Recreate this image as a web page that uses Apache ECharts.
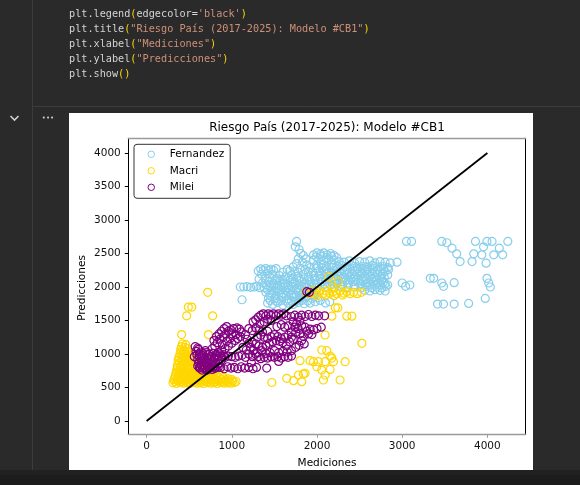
<!DOCTYPE html>
<html>
<head>
<meta charset="utf-8">
<script src="https://cdn.jsdelivr.net/npm/echarts@6/dist/echarts.min.js"></script>
<style>
html,body{margin:0;padding:0;background:#2a2a2b;}
#c{width:580px;height:485px;}
</style>
</head>
<body>
<div id="c"></div>
<script>
const seriesNames = ['Fernandez', 'Macri', 'Milei'];
const xTicks = [0, 1000, 2000, 3000, 4000];
const yTicks = [0, 500, 1000, 1500, 2000, 2500, 3000, 3500, 4000];
const identityLine = [[0, 0], [4000, 4000]];

const fernandez = [
[1100,2000],[1140,2000],[1180,2005],[1220,1995],[1260,2000],[1290,2010],[1330,1990],[1120,1810],
[1310,2240],[1340,2270],[1370,2250],[1400,2275],[1430,2245],[1460,2265],[1490,2250],[1520,2275],[1350,2190],[1420,2200],[1480,2190],[1320,2120],[1390,2130],[1450,2140],[1510,2110],
[1360,2060],[1430,2080],[1500,2050],[1560,2090],[1620,2060],[1680,2100],[1740,2070],[1800,2090],[1860,2060],[1920,2080],[1980,2100],
[1380,1990],[1450,2000],[1520,1980],[1580,2010],[1640,1990],[1700,2000],[1760,1980],[1820,2010],[1880,1990],[1940,2000],[2000,1990],
[1400,1920],[1470,1900],[1540,1930],[1600,1900],[1660,1920],[1720,1890],[1780,1920],[1840,1900],[1900,1920],[1960,1890],
[1560,2170],[1630,2150],[1700,2180],[1770,2160],[1840,2190],[1900,2150],[1960,2170],
[1430,1840],[1510,1830],[1590,1850],[1660,1820],[1730,1850],[1800,1830],[1870,1850],[1940,1830],[2010,1840],
[1420,1760],[1480,1740],[1540,1770],[1600,1730],[1660,1760],[1720,1740],[1780,1770],[1850,1750],[1920,1760],[1980,1780],[2040,1800],[2100,1760],[2150,1780],
[1400,2030],[1470,2040],[1530,2020],[1600,2040],[1660,2030],[1720,2040],[1790,2030],[1850,2040],[1910,2030],[1970,2040],
[1420,1960],[1490,1950],[1560,1960],[1630,1950],[1690,1960],[1750,1950],[1810,1960],[1870,1950],[1930,1960],[1990,1950],
[1450,1880],[1520,1870],[1580,1880],[1640,1870],[1700,1880],[1760,1870],[1830,1880],[1890,1870],[1950,1880],
[1530,2120],[1600,2110],[1660,2130],[1720,2120],[1790,2130],[1850,2120],[1910,2110],[1970,2130],
[1450,1800],[1520,1790],[1580,1800],[1640,1790],[1700,1800],[1760,1790],[1820,1800],[1890,1790],
[1600,2220],[1650,2260],[1780,2220],[1900,2230],[1950,2220],
[1760,2680],[1745,2600],[1790,2560],[1810,2500],[1840,2470],[1870,2420],[1780,2420],[1830,2370],[1880,2330],[1760,2350],[1720,2300],[1800,2280],[1860,2260],[1920,2290],[1680,2240],[1740,2230],
[1960,2480],[2000,2510],[2040,2490],[2080,2510],[2120,2480],[2160,2500],[2200,2470],
[1960,2400],[2020,2420],[2080,2390],[2140,2410],[2200,2400],[2260,2380],[2320,2370],[2380,2390],[2440,2360],[2500,2380],[2560,2370],[2620,2390],[2680,2360],[2740,2380],[2800,2370],[2860,2360],[2940,2370],
[1990,2450],[2050,2460],[2110,2440],[2170,2460],[2230,2440],
[1990,2320],[2050,2330],[2110,2310],[2170,2330],[2230,2310],[2290,2320],[2350,2300],[2410,2320],[2470,2300],[2530,2310],[2590,2300],[2650,2320],[2710,2300],[2770,2310],[2830,2290],
[2000,2280],[2060,2290],[2120,2270],[2180,2290],[2240,2270],[2300,2280],[2360,2260],[2420,2280],[2480,2270],[2540,2280],[2600,2260],[2660,2280],[2720,2260],[2780,2270],[2840,2260],
[2020,2240],[2080,2250],[2140,2230],[2200,2250],[2260,2230],[2320,2240],[2380,2220],[2440,2240],[2500,2230],[2560,2250],[2620,2230],[2680,2220],[2740,2240],[2800,2230],
[2050,2200],[2110,2190],[2170,2210],[2230,2190],[2290,2200],[2350,2190],[2410,2200],[2470,2190],[2530,2210],[2590,2190],[2650,2200],[2710,2190],[2770,2200],[2830,2180],
[2030,2160],[2090,2150],[2150,2170],[2210,2150],[2270,2160],[2330,2140],[2390,2160],[2450,2150],[2510,2170],[2570,2150],[2630,2160],[2690,2140],[2750,2160],[2790,2140],
[2040,2120],[2100,2110],[2160,2130],[2220,2110],[2280,2120],[2340,2100],[2400,2120],[2460,2110],[2520,2130],[2580,2110],[2640,2120],[2700,2100],[2760,2110],
[2060,2080],[2120,2070],[2180,2090],[2240,2070],[2300,2080],[2360,2060],[2420,2080],[2480,2070],[2540,2090],[2600,2070],[2660,2080],[2720,2060],[2780,2070],[2830,2030],
[2090,2040],[2160,2030],[2230,2050],[2300,2030],[2370,2040],[2440,2030],[2510,2050],[2570,2040],[2630,2030],[2690,2040],[2750,2030],[2800,2050],
[2120,2000],[2200,1990],[2280,2010],[2360,1990],[2440,2000],[2520,1990],[2580,2010],[2640,1990],[2700,2000],[2760,1990],[2810,2010],
[2560,1950],[2620,1940],[2680,1960],[2740,1950],[2800,1940],
[3000,2060],[3040,2010],[3090,2030],[3050,2680],[3110,2680],[3330,2130],[3370,2130],[3465,2060],[3485,2010],[3610,2065],
[3415,1745],[3485,1745],[3610,1745],[3780,1755],
[3465,2680],[3525,2660],[3585,2580],[3640,2495],[3680,2380],[3820,2380],[3840,2495],[3860,2680],[3955,2600],[3995,2680],[4055,2680],[3935,2480],[4075,2480],[4140,2580],[4180,2480],[4240,2680],
[3985,2355],[3995,2130],[4015,2060],[4035,2000],[3975,1830]
];

const macri = [
[310,570],[350,560],[390,575],[430,565],[470,570],[510,560],[550,575],[590,565],[630,570],[670,560],[710,575],[750,565],[790,570],[830,560],[870,575],[910,565],[950,570],[990,565],[1030,575],
[330,590],[370,595],[410,590],[450,595],[490,590],[530,595],[570,590],[610,595],[650,590],[690,595],[730,590],[770,595],[810,590],[850,595],[890,590],[930,595],[970,590],[1010,595],[1050,590],
[320,620],[360,610],[400,625],[440,615],[480,620],[520,610],[560,625],[600,615],[640,620],[680,610],[720,625],[760,615],[800,620],[840,610],[880,625],[920,615],[960,630],[1000,620],
[330,650],[370,655],[410,645],[450,655],[490,650],[530,645],[570,655],[610,650],[650,645],[690,655],[730,650],[790,645],[850,650],[910,650],
[340,680],[380,690],[420,675],[460,685],[500,680],[540,690],[580,675],[620,685],[660,680],[700,690],[760,670],[820,660],[880,680],
[345,715],[385,720],[425,710],[465,720],[505,715],[545,720],[585,710],[625,715],[665,710],
[350,750],[390,740],[430,760],[470,745],[510,755],[550,740],[600,760],[650,745],[700,730],
[360,790],[400,785],[440,795],[480,790],[520,785],[560,790],[600,795],
[360,830],[400,820],[440,840],[480,825],[520,835],[560,820],[620,830],
[380,870],[420,865],[460,875],[500,870],[540,860],
[370,910],[410,900],[450,920],[490,905],[530,915],
[380,950],[420,945],[460,955],[500,945],
[390,990],[430,1000],[470,985],[510,1000],
[400,1030],[440,1020],[480,1035],
[400,1070],[440,1060],[480,1080],
[410,1110],[450,1100],
[420,1150],[460,1140],
[717,1920],[490,1700],[530,1700],[470,1570],[775,1570],[411,1290],[725,1290],
[1470,575],[1645,637],[1724,602],[1782,687],[1860,712],[1801,900],[1919,900],[1998,810],
[2056,1060],[2115,1050],[2154,970],[2174,940],[1958,885],[2017,885],[2095,885],[2193,885],[2330,885],
[2056,761],[2154,770],[2095,687],[2075,612],[2271,612],[1840,700],[1821,587],[2095,1284],[2527,1160],
[1870,1930],[1910,1900],[1950,1940],[1990,1910],[2030,1930],[2070,1900],[2110,1940],[2150,1910],[2190,1930],[2230,1900],[2270,1940],[2310,1910],[2350,1930],[2390,1900],[2430,1920],[2470,1900],[2520,1920],
[2000,1870],[2100,1880],[2200,1870],[2300,1880],[2140,2150],[2250,2080],[2180,1990],
[2215,1690],[2245,1690],[2175,1565],[2350,1565],[2410,1565]
];

const milei = [
[620,790],[650,760],[680,780],[710,760],[740,790],[770,770],[800,790],[640,840],[670,820],[700,850],[730,830],[760,850],[790,820],[620,880],[660,900],[700,890],
[600,820],[630,800],[660,790],[690,800],[720,810],[750,800],[780,810],[810,790],[840,800],[610,860],[650,870],[690,860],[730,870],[770,880],[810,870],[850,860],
[600,920],[640,930],[680,920],[720,940],[760,920],[800,930],[840,920],[880,910],[620,1000],[660,1010],[700,1020],[740,1000],[780,1010],[820,990],[860,1000],[900,990],
[560,960],[590,990],[620,950],[650,980],[580,1040],[610,1070],[640,1030],[570,1110],[600,1090],[690,1050],[720,990],
[760,960],[800,950],[840,970],[880,960],[920,950],[960,970],[1000,960],[1040,950],[1080,970],
[870,800],[910,780],[950,810],[990,790],[1030,800],[1070,780],[1110,810],[1150,790],[1200,800],[1250,780],[1290,800],[1410,790],
[770,1080],[800,1120],[830,1170],[790,1200],[820,1260],[850,1300],[880,1340],[910,1380],[940,1410],[860,1220],[900,1260],[930,1300],[960,1340],[990,1360],[1020,1380],[1060,1390],[1090,1370],[1110,1330],[1100,1260],[1070,1230],[1040,1200],[1000,1160],[960,1120],[920,1080],[880,1050],[840,1020],
[1000,1300],[1050,1290],[980,1230],[940,1190],[890,1140],
[1120,980],[1160,950],[1200,1000],[1240,960],[1130,1100],[1170,1060],[1300,1020],[1350,1050],[1400,1010],[1450,1020],[1500,1050],[1550,1020],[1600,1040],[1650,1030],[1700,1050],[1750,1100],[1790,1130],
[1160,1290],[1180,1220],[1200,1160],[1220,1100],[1250,1050],[1280,1000],[1310,960],[1340,930],[1380,950],[1420,940],[1460,960],[1500,950],[1540,960],[1580,940],[1620,960],[1660,950],[1700,970],
[1240,1180],[1280,1150],[1320,1120],[1360,1100],[1400,1130],[1440,1160],[1480,1180],[1520,1200],[1560,1190],[1600,1170],
[1300,1250],[1340,1280],[1380,1250],[1420,1230],[1460,1260],[1500,1290],[1540,1260],[1580,1230],[1620,1250],[1660,1280],[1700,1250],
[1200,1380],[1240,1350],[1280,1390],[1320,1360],[1360,1330],[1420,1340],
[1230,870],[1550,890],
[1250,1480],[1280,1510],[1310,1550],[1340,1580],[1370,1600],[1400,1570],[1430,1600],[1460,1580],[1490,1600],[1520,1570],[1550,1600],[1580,1580],[1610,1600],[1640,1570],[1330,1450],[1380,1480],[1420,1520],[1460,1500],
[1530,1410],[1580,1440],[1620,1400],[1660,1420],
[1700,1560],[1740,1580],[1780,1550],[1820,1580],[1860,1560],[1900,1590],[1940,1560],[1980,1580],[2020,1570],[2090,1570],
[1720,1480],[1760,1450],[1800,1500],[1740,1400],[1780,1380],[1820,1420],[1860,1400],[1700,1330],[1750,1320],[1800,1300],[1840,1260],[1820,1200],[1850,1150],[1880,1340],[1920,1370],[1960,1360],[2000,1380],[2050,1400],[1900,1300],[1940,1290],
[1720,1220],[1680,1180],[1640,1120],
[1880,1930],[1910,1920]
];

const colors = {Fernandez: '#87CEEB', Macri: '#FFD700', Milei: '#800080'};
const dataByName = {Fernandez: fernandez, Macri: macri, Milei: milei};

const chart = echarts.init(document.getElementById('c'), null, {renderer: 'canvas'});

const mono = '"DejaVu Sans Mono", monospace';
const codeRich = {
  p: {fill: '#d4d4d4', fontFamily: mono, fontSize: 10.2},
  b: {fill: '#ffd700', fontFamily: mono, fontSize: 10.2},
  s: {fill: '#ce9178', fontFamily: mono, fontSize: 10.2}
};
const codeLines = [
  "{p|plt.legend}{b|(}{p|edgecolor=}{s|'black'}{b|)}",
  '{p|plt.title}{b|(}{s|"Riesgo País (2017-2025): Modelo #CB1"}{b|)}',
  '{p|plt.xlabel}{b|(}{s|"Mediciones"}{b|)}',
  '{p|plt.ylabel}{b|(}{s|"Predicciones"}{b|)}',
  '{p|plt.show}{b|()}'
];
const graphics = [
  {type: 'rect', z: -10, shape: {x: 0, y: 0, width: 580, height: 485}, style: {fill: '#2a2a2b'}},
  {type: 'rect', z: -9, shape: {x: 0, y: 470, width: 580, height: 5}, style: {fill: '#212122'}},
  {type: 'rect', z: -9, shape: {x: 0, y: 475, width: 580, height: 10}, style: {fill: '#1c1c1d'}},
  {type: 'line', z: -8, shape: {x1: 32.5, y1: 0, x2: 32.5, y2: 470}, style: {stroke: '#3c3c3e', lineWidth: 1}},
  {type: 'line', z: -8, shape: {x1: 33, y1: 106.5, x2: 580, y2: 106.5}, style: {stroke: '#3c3c3e', lineWidth: 1}},
  {type: 'polyline', z: -8, shape: {points: [[10.5, 116], [14.5, 120], [18.5, 116]]}, style: {stroke: '#d0d0d0', lineWidth: 1.6, fill: null}},
  {type: 'text', z: -8, x: 48, y: 118, style: {text: '•••', fill: '#c8c8c8', fontSize: 7, align: 'center', verticalAlign: 'middle', fontFamily: 'DejaVu Sans'}},
  {type: 'rect', z: -7, shape: {x: 69, y: 113, width: 464, height: 357}, style: {fill: '#ffffff'}},
  {type: 'text', z: 5, x: 327, y: 127.5, style: {text: 'Riesgo País (2017-2025): Modelo #CB1', fill: '#000', fontSize: 12, fontFamily: 'DejaVu Sans', align: 'center', verticalAlign: 'middle'}},
  {type: 'text', z: 5, x: 327, y: 463.5, style: {text: 'Mediciones', fill: '#000', fontSize: 10.5, fontFamily: 'DejaVu Sans', align: 'center', verticalAlign: 'middle'}},
  {type: 'text', z: 5, x: 82, y: 288, rotation: Math.PI / 2, style: {text: 'Predicciones', fill: '#000', fontSize: 10.5, fontFamily: 'DejaVu Sans', align: 'center', verticalAlign: 'middle'}}
];
codeLines.forEach(function (t, i) {
  graphics.push({type: 'text', z: 5, x: 69, y: 14 + 15.2 * i, style: {text: t, rich: codeRich, verticalAlign: 'middle', align: 'left'}});
});

const scatterSeries = seriesNames.map(function (n, i) {
  return {
    name: n,
    type: 'scatter',
    xAxisIndex: 0, yAxisIndex: 0,
    data: dataByName[n],
    symbol: 'circle',
    symbolSize: 8,
    z: 2 + i,
    itemStyle: {color: 'rgba(255,255,255,0)', borderColor: colors[n], borderWidth: 1.2, opacity: 1},
    emphasis: {disabled: true},
    animation: false
  };
});

const axisCommonX = {type: 'value', min: -215, max: 4450};
const axisCommonY = {type: 'value', min: -198, max: 4219};
const plain = function (v) { return String(v); };

chart.setOption({
  animation: false,
  backgroundColor: 'transparent',
  graphic: graphics,
  grid: {left: 128.3, top: 138.3, right: 54.3, bottom: 50.7, containLabel: false},
  legend: {
    data: seriesNames.map(function (n) {
      return {name: n, itemStyle: {color: 'rgba(255,255,255,0)', borderColor: colors[n], borderWidth: 1}};
    }),
    orient: 'vertical',
    left: 134, top: 144.3,
    padding: [3.5, 6, 4.5, 13.5],
    itemGap: 3.5,
    itemWidth: 27, itemHeight: 6.5,
    borderColor: '#333', borderWidth: 1, borderRadius: 3,
    backgroundColor: '#fff',
    textStyle: {fontFamily: 'DejaVu Sans', fontSize: 10.5, color: '#000', lineHeight: 13},
    selectedMode: false,
    z: 10
  },
  xAxis: [
    Object.assign({}, axisCommonX, {
      position: 'bottom',
      splitLine: {show: false},
      axisLine: {show: true, onZero: false, lineStyle: {color: '#9a9a9a', width: 1.3}},
      axisTick: {show: true, length: 3.5, customValues: xTicks, lineStyle: {color: '#9a9a9a'}},
      axisLabel: {customValues: xTicks, formatter: plain, fontFamily: 'DejaVu Sans', fontSize: 10.5, color: '#111', margin: 6.5, showMinLabel: true, showMaxLabel: true}
    }),
    Object.assign({}, axisCommonX, {
      position: 'top',
      splitLine: {show: false},
      axisLine: {show: true, onZero: false, lineStyle: {color: '#9a9a9a', width: 1.3}},
      axisTick: {show: false}, axisLabel: {show: false}
    })
  ],
  yAxis: [
    Object.assign({}, axisCommonY, {
      position: 'left',
      splitLine: {show: false},
      axisLine: {show: true, onZero: false, lineStyle: {color: '#000', width: 1}},
      axisTick: {show: true, length: 3.5, customValues: yTicks, lineStyle: {color: '#000'}},
      axisLabel: {customValues: yTicks, formatter: plain, fontFamily: 'DejaVu Sans', fontSize: 10.5, color: '#111', margin: 7.5}
    }),
    Object.assign({}, axisCommonY, {
      position: 'right',
      splitLine: {show: false},
      axisLine: {show: true, onZero: false, lineStyle: {color: '#000', width: 1}},
      axisTick: {show: false}, axisLabel: {show: false}
    })
  ],
  series: scatterSeries.concat([{
    name: 'identity',
    type: 'line',
    xAxisIndex: 0, yAxisIndex: 0,
    data: identityLine,
    symbol: 'none',
    lineStyle: {color: '#000', width: 1.8},
    z: 8,
    silent: true
  }])
});
</script>
</body>
</html>
